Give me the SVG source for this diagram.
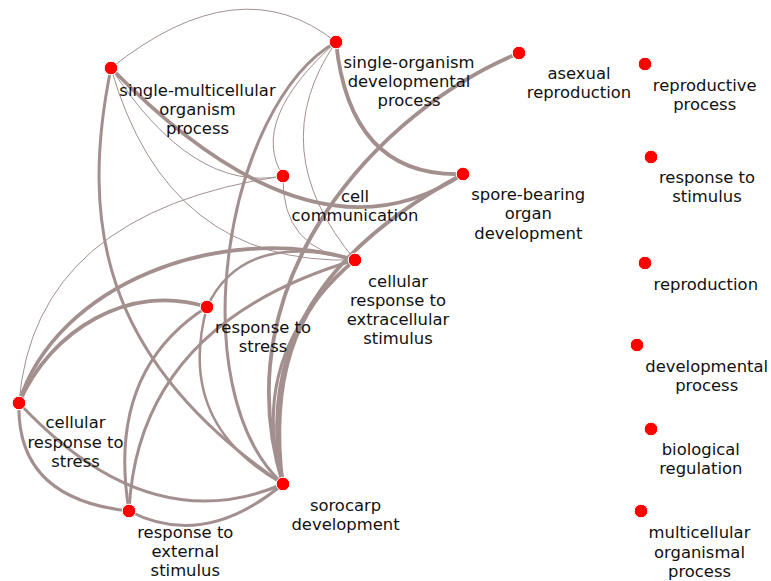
<svg xmlns="http://www.w3.org/2000/svg" width="771" height="581" viewBox="0 0 771 581">
<style>
.e{fill:none;stroke:#a3908e;stroke-linecap:round}
.t1{stroke-width:1}
.t2{stroke-width:2.5}
.t3{stroke-width:3}
.t4{stroke-width:3.8}
.n{fill:#ff0000;stroke:#ffffff;stroke-width:1}
text{font-family:"DejaVu Sans","Liberation Sans",sans-serif;font-size:16.4px;fill:#111111;text-anchor:middle}
</style>
<rect width="771" height="581" fill="#ffffff"/>
<g id="edges">
<path class="e t1" d="M111,68 Q240,-35 336,42"/>
<path class="e t4" d="M111,68 Q313,275 463,174"/>
<path class="e t1" d="M111,68 Q193,194 283,176"/>
<path class="e t1" d="M111,68 Q167,266 355,260"/>
<path class="e t3" d="M111,68 C80,220 100,360 283,484"/>
<path class="e t4" d="M336,42 Q350,178 463,174"/>
<path class="e t1" d="M336,42 Q248,121 283,176"/>
<path class="e t1" d="M336,42 Q262,149 355,260"/>
<path class="e t3" d="M336,42 C225,105 180,390 283,484"/>
<path class="e t1" d="M283,176 Q281,250 355,260"/>
<path class="e t1" d="M283,176 Q34,212 19,403"/>
<path class="e t4" d="M519,53 C380,110 220,280 283,484"/>
<path class="e t4" d="M463,174 C360,230 250,320 283,484"/>
<path class="e t3" d="M355,260 Q245,355 283,484"/>
<path class="e t3" d="M355,260 Q264,330 283,484"/>
<path class="e t4" d="M19,403 C55,285 220,220 355,260"/>
<path class="e t2" d="M207,307 Q243,230 355,260"/>
<path class="e t3" d="M129,511 Q138,324 355,260"/>
<path class="e t4" d="M19,403 C50,330 130,282 207,307"/>
<path class="e t3" d="M129,511 Q106,371 207,307"/>
<path class="e t2" d="M207,307 Q175,424 283,484"/>
<path class="e t3" d="M19,403 Q16,499 129,511"/>
<path class="e t3" d="M19,403 Q149,542 283,484"/>
<path class="e t3" d="M129,511 Q204,550 283,484"/>
</g>
<g id="n-single-multicellular">
<circle class="n" cx="111" cy="68" r="6.8"/>
<text x="197.5" y="95.7">single-multicellular</text>
<text x="197.5" y="114.7">organism</text>
<text x="197.5" y="133.7">process</text>
</g>
<g id="n-single-organism">
<circle class="n" cx="336" cy="42" r="6.8"/>
<text x="409" y="67.7">single-organism</text>
<text x="409" y="86.7">developmental</text>
<text x="409" y="105.7">process</text>
</g>
<g id="n-asexual-reproduction">
<circle class="n" cx="519" cy="53" r="6.8"/>
<text x="579" y="79">asexual</text>
<text x="579" y="98.3">reproduction</text>
</g>
<g id="n-reproductive-process">
<circle class="n" cx="645" cy="64" r="6.8"/>
<text x="704.7" y="90.7">reproductive</text>
<text x="704.7" y="110">process</text>
</g>
<g id="n-cell-communication">
<circle class="n" cx="283" cy="176" r="6.8"/>
<text x="355" y="201.7">cell</text>
<text x="355" y="221">communication</text>
</g>
<g id="n-spore-bearing">
<circle class="n" cx="463" cy="174" r="6.8"/>
<text x="528.3" y="200">spore-bearing</text>
<text x="528.3" y="219.3">organ</text>
<text x="528.3" y="238.6">development</text>
</g>
<g id="n-response-to-stimulus">
<circle class="n" cx="651" cy="157" r="6.8"/>
<text x="707" y="183.3">response to</text>
<text x="707" y="202.3">stimulus</text>
</g>
<g id="n-cellular-response-extracellular">
<circle class="n" cx="355" cy="260" r="6.8"/>
<text x="398" y="286.5">cellular</text>
<text x="398" y="305.7">response to</text>
<text x="398" y="325">extracellular</text>
<text x="398" y="344.2">stimulus</text>
</g>
<g id="n-reproduction">
<circle class="n" cx="645" cy="263" r="6.8"/>
<text x="705.8" y="289.5">reproduction</text>
</g>
<g id="n-response-to-stress">
<circle class="n" cx="207" cy="307" r="6.8"/>
<text x="263" y="332.7">response to</text>
<text x="263" y="351.7">stress</text>
</g>
<g id="n-developmental-process">
<circle class="n" cx="637" cy="345" r="6.8"/>
<text x="706.7" y="371.5">developmental</text>
<text x="706.7" y="390.7">process</text>
</g>
<g id="n-cellular-response-to-stress">
<circle class="n" cx="19" cy="403" r="6.8"/>
<text x="75.5" y="428.3">cellular</text>
<text x="75.5" y="447.6">response to</text>
<text x="75.5" y="466.7">stress</text>
</g>
<g id="n-biological-regulation">
<circle class="n" cx="651" cy="429" r="6.8"/>
<text x="700.8" y="455">biological</text>
<text x="700.8" y="474.3">regulation</text>
</g>
<g id="n-sorocarp-development">
<circle class="n" cx="283" cy="484" r="6.8"/>
<text x="345.5" y="511">sorocarp</text>
<text x="345.5" y="530">development</text>
</g>
<g id="n-response-to-external-stimulus">
<circle class="n" cx="129" cy="511" r="6.8"/>
<text x="185.3" y="537.7">response to</text>
<text x="185.3" y="557">external</text>
<text x="185.3" y="576">stimulus</text>
</g>
<g id="n-multicellular-organismal-process">
<circle class="n" cx="641" cy="511" r="6.8"/>
<text x="699.5" y="538.3">multicellular</text>
<text x="699.5" y="557.5">organismal</text>
<text x="699.5" y="577">process</text>
</g>
</svg>
